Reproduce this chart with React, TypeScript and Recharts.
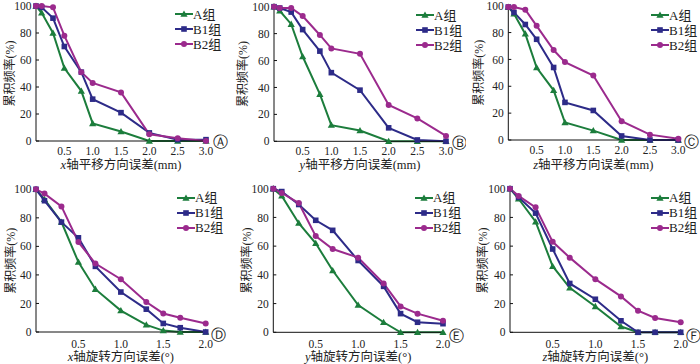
import React from 'react';
import { LineChart, Line, XAxis, YAxis, Legend } from 'recharts';

// ---------- data ----------
const xTranslation = [0, 0.1, 0.3, 0.5, 0.8, 1.0, 1.5, 2.0, 2.5, 3.0];
const xRotation = [0, 0.1, 0.3, 0.5, 0.7, 1.0, 1.3, 1.5, 1.7, 2.0];
const translationTicks = [0.5, 1.0, 1.5, 2.0, 2.5, 3.0];
const rotationTicks = [0.5, 1.0, 1.5, 2.0];
const yTicks = [0, 20, 40, 60, 80, 100];
const seriesNames = ['A组', 'B1组', 'B2组'];
const panelLetters = ['Ⓐ', 'Ⓑ', 'Ⓒ', 'Ⓓ', 'Ⓔ', 'Ⓕ'];
const axisVars = ['x', 'y', 'z', 'x', 'y', 'z'];
const translationLabel = '轴平移方向误差(mm)';
const rotationLabel = '轴旋转方向误差(°)';
const yLabel = '累积频率(%)';

const xTransA = [100, 95, 80, 54, 37, 13, 7, 0, 0, 0];
const xTransB1 = [100, 99, 91, 70, 51, 31, 21, 6, 1, 1];
const xTransB2 = [100, 100, 99, 78, 51, 43, 36, 5, 2, 0];

const yTransA = [100, 97, 87, 63, 35, 12, 8, 0, 0, 0];
const yTransB1 = [100, 99, 96, 83, 67, 51, 38, 10, 1, 0];
const yTransB2 = [100, 99, 99, 93, 79, 69, 65, 27, 17, 4];

const zTransA = [99, 94, 79, 54, 37, 13, 7, 0, 0, 0];
const zTransB1 = [99, 95, 86, 75, 54, 28, 22, 3, 0, 0];
const zTransB2 = [99, 99, 97, 85, 67, 58, 48, 14, 4, 1];

const xRotA = [100, 93, 77, 49, 30, 15, 5, 1, 0, 0];
const xRotB1 = [100, 92, 77, 66, 46, 28, 16, 6, 3, 0];
const xRotB2 = [100, 97, 88, 63, 48, 37, 21, 13, 10, 6];

const yRotA = [100, 95, 76, 62, 43, 19, 7, 0, 0, 0];
const yRotB1 = [100, 98, 89, 78, 71, 50, 32, 13, 7, 6];
const yRotB2 = [100, 97, 90, 67, 58, 52, 34, 18, 13, 8];

const zRotA = [100, 93, 77, 46, 31, 18, 4, 0, 0, 0];
const zRotB1 = [100, 94, 83, 58, 34, 23, 8, 0, 0, 0];
const zRotB2 = [100, 95, 87, 63, 52, 37, 25, 15, 10, 7];

// ---------- styling / layout ----------
const COLORS = ['#1c7d3c', '#2d2b88', '#9b2a8d'];
const SERIF = "'Liberation Serif', 'Times New Roman', 'Noto Sans CJK SC', serif";
const TEXT = '#222';

type Layout = {
  left: number; top: number; w: number; h: number;
  pl: number; pr: number; pt: number; pb: number;
  yl: number; lx: number; ly: number; tm: number; xl: number; cl: number; cy: number;
};

const layouts: Layout[] = [
  { left: 0, top: 0, w: 233, h: 182, pl: 36, pr: 206, pt: 6, pb: 141, yl: 10, lx: 175, ly: 14, tm: 6, xl: 23.5, cl: 14, cy: 0.7 },
  { left: 233, top: 0, w: 233, h: 182, pl: 41, pr: 213, pt: 6.7, pb: 141.3, yl: 10, lx: 183, ly: 15, tm: 6, xl: 23.5, cl: 13, cy: 1 },
  { left: 466, top: 0, w: 234, h: 182, pl: 42.3, pr: 212.3, pt: 5.7, pb: 140, yl: 13, lx: 185, ly: 15, tm: 6, xl: 24.5, cl: 13, cy: 1.5 },
  { left: 0, top: 182, w: 233, h: 182, pl: 36, pr: 205.7, pt: 7.3, pb: 150, yl: 11.5, lx: 177, ly: 15.7, tm: 8, xl: 24.5, cl: 12.5, cy: 3 },
  { left: 233, top: 182, w: 233, h: 182, pl: 40.3, pr: 210, pt: 6.7, pb: 150.3, yl: 14, lx: 182, ly: 15.7, tm: 8, xl: 24.5, cl: 13.5, cy: 3.5 },
  { left: 466, top: 182, w: 234, h: 182, pl: 44, pr: 214.7, pt: 6.7, pb: 150.3, yl: 16.5, lx: 185, ly: 15.7, tm: 8, xl: 24.5, cl: 12.5, cy: 3.8 },
];

const buildRows = (xs: number[], a: number[], b1: number[], b2: number[]) =>
  xs.map((x, i) => ({ x, a: a[i], b1: b1[i], b2: b2[i] }));

const panelData = [
  { rows: buildRows(xTranslation, xTransA, xTransB1, xTransB2), ticks: translationTicks, max: 3, label: translationLabel },
  { rows: buildRows(xTranslation, yTransA, yTransB1, yTransB2), ticks: translationTicks, max: 3, label: translationLabel },
  { rows: buildRows(xTranslation, zTransA, zTransB1, zTransB2), ticks: translationTicks, max: 3, label: translationLabel },
  { rows: buildRows(xRotation, xRotA, xRotB1, xRotB2), ticks: rotationTicks, max: 2, label: rotationLabel },
  { rows: buildRows(xRotation, yRotA, yRotB1, yRotB2), ticks: rotationTicks, max: 2, label: rotationLabel },
  { rows: buildRows(xRotation, zRotA, zRotB1, zRotB2), ticks: rotationTicks, max: 2, label: rotationLabel },
];

// ---------- markers ----------
const Marker = ({ kind, cx, cy, color }: { kind: number; cx: number; cy: number; color: string }) => {
  if (kind === 0) {
    const s = 3.6;
    return <path d={`M${cx},${cy - s} L${cx + s},${cy + s * 0.75} L${cx - s},${cy + s * 0.75} Z`} fill={color} />;
  }
  if (kind === 1) {
    return <rect x={cx - 2.8} y={cy - 2.8} width={5.6} height={5.6} fill={color} />;
  }
  return <circle cx={cx} cy={cy} r={3} fill={color} />;
};

const makeDot = (kind: number) => (props: any) => {
  const { cx, cy, index } = props;
  if (cx == null || cy == null) return <g key={`d${kind}-${index}`} />;
  return <Marker key={`d${kind}-${index}`} kind={kind} cx={cx} cy={cy} color={COLORS[kind]} />;
};

const LegendContent = () => (
  <div style={{ fontFamily: SERIF, fontSize: 13, color: TEXT }}>
    {seriesNames.map((n, k) => (
      <div key={n} style={{ display: 'flex', alignItems: 'center', height: 15 }}>
        <svg width={18} height={10} style={{ display: 'block' }}>
          <line x1={0} y1={5} x2={18} y2={5} stroke={COLORS[k]} strokeWidth={2} />
          <Marker kind={k} cx={9} cy={5} color={COLORS[k]} />
        </svg>
        <span style={{ lineHeight: '15px' }}>{n}</span>
      </div>
    ))}
  </div>
);

const Panel = ({ idx }: { idx: number }) => {
  const L = layouts[idx];
  const D = panelData[idx];
  const letter = panelLetters[idx];
  const v = axisVars[idx];
  return (
    <div style={{ position: 'absolute', left: L.left, top: L.top, width: L.w, height: L.h }}>
      <LineChart
        width={L.w}
        height={L.h}
        data={D.rows}
        margin={{ top: L.pt, right: L.w - L.pr, bottom: 0, left: 0 }}
      >
        <XAxis
          dataKey="x"
          type="number"
          domain={[0, D.max]}
          ticks={D.ticks}
          tickFormatter={(t: number) => t.toFixed(1)}
          tickLine={false}
          tickSize={0}
          tickMargin={L.tm}
          height={L.h - L.pb}
          axisLine={{ stroke: '#111', strokeWidth: 1 }}
          tick={{ fill: TEXT, fontSize: 11.5, fontFamily: SERIF }}
          label={{
            content: (p: any) => {
              const vb = p.viewBox || {};
              const cx = vb.x + vb.width / 2;
              return (
                <g>
                  <text x={cx} y={vb.y + L.xl + 4} textAnchor="middle" fontSize={12.5} fontFamily={SERIF} fill={TEXT}>
                    <tspan fontStyle="italic">{v}</tspan>
                    <tspan>{D.label}</tspan>
                  </text>
                  <text x={vb.x + vb.width + L.cl} y={vb.y + L.cy + 5.2} textAnchor="middle" fontSize={14.5} fontFamily="'DejaVu Sans', sans-serif" fill={TEXT}>
                    {letter}
                  </text>
                </g>
              );
            },
          }}
        />
        <YAxis
          type="number"
          domain={[0, 100]}
          ticks={yTicks}
          width={L.pl}
          tickSize={-3}
          tickMargin={7.5}
          axisLine={{ stroke: '#111', strokeWidth: 1 }}
          tickLine={{ stroke: '#111' }}
          tick={{ fill: TEXT, fontSize: 11.5, fontFamily: SERIF }}
          label={{
            content: (p: any) => {
              const vb = p.viewBox || {};
              const cy = vb.y + vb.height / 2;
              return (
                <text x={L.yl} y={cy} transform={`rotate(-90 ${L.yl} ${cy})`} textAnchor="middle" dominantBaseline="central" fontSize={12} fontFamily={SERIF} fill={TEXT}>
                  {yLabel}
                </text>
              );
            },
          }}
        />
        <Legend
          layout="vertical"
          align="center"
          verticalAlign="middle"
          content={<LegendContent />}
          wrapperStyle={{ left: L.lx, top: L.ly - 7.5, width: 'auto', height: 'auto' }}
        />
        {(['a', 'b1', 'b2'] as const).map((key, k) => (
          <Line
            key={key}
            dataKey={key}
            name={seriesNames[k]}
            type="linear"
            stroke={COLORS[k]}
            strokeWidth={2}
            dot={makeDot(k)}
            activeDot={false}
            isAnimationActive={false}
          />
        ))}
      </LineChart>
    </div>
  );
};

export default function App() {
  return (
    <div style={{ position: 'absolute', left: 0, top: 0, width: 700, height: 364, background: '#fff', overflow: 'hidden' }}>
      {layouts.map((_, i) => (
        <Panel key={i} idx={i} />
      ))}
    </div>
  );
}
